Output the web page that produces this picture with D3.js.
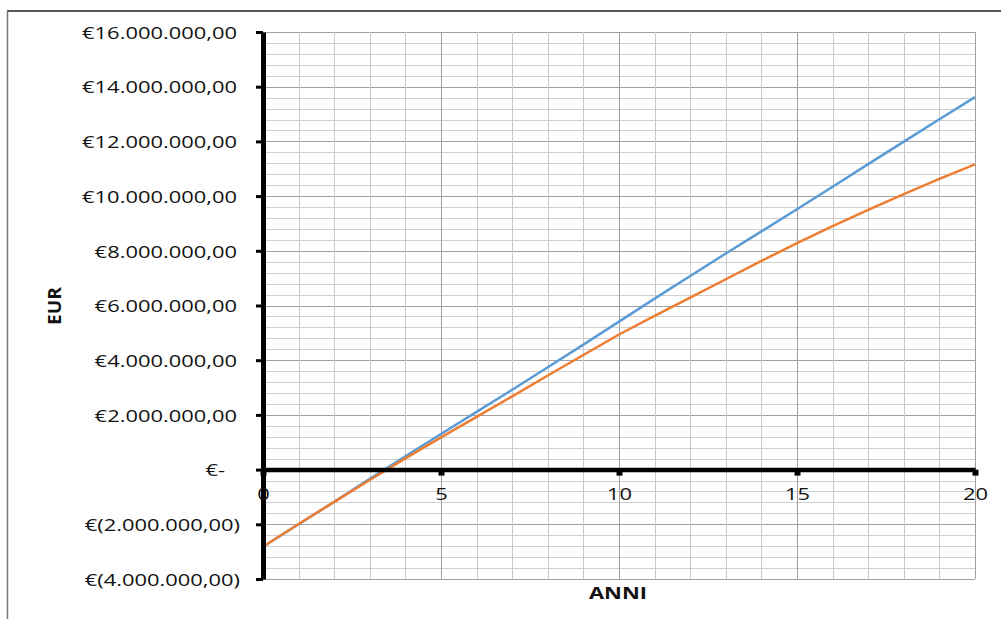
<!DOCTYPE html>
<html>
<head>
<meta charset="utf-8">
<script src="https://cdn.jsdelivr.net/npm/d3@7"></script>
<style>
  html, body { margin: 0; padding: 0; background: #fff; }
  svg { display: block; }
  text { font-family: "Open Sans", "DejaVu Sans", sans-serif; fill: #111; }
</style>
</head>
<body>
<svg id="chart" width="1001" height="619"></svg>
<script>
// ---------- data ----------
const years = [0,1,2,3,4,5,6,7,8,9,10,11,12,13,14,15,16,17,18,19,20];
const seriesBlue = [-2820000,-2000000,-1180000,-340000,490000,1300000,2110000,2920000,3740000,4570000,5410000,
                    6250000,7080000,7900000,8710000,9520000,10340000,11170000,11990000,12810000,13620000];
const seriesOrange = [-2820000,-1990000,-1180000,-380000,410000,1180000,1930000,2680000,3440000,4190000,4940000,
                      5620000,6290000,6960000,7630000,8280000,8900000,9500000,10070000,10630000,11160000];
const yTickValues = [-4000000,-2000000,0,2000000,4000000,6000000,8000000,10000000,12000000,14000000,16000000];
const yTickLabels = ["€(4.000.000,00)","€(2.000.000,00)","€-","€2.000.000,00","€4.000.000,00","€6.000.000,00",
                     "€8.000.000,00","€10.000.000,00","€12.000.000,00","€14.000.000,00","€16.000.000,00"];
const xTickValues = [0,5,10,15,20];
const xTickLabels = ["0","5","10","15","20"];
const xTitle = "ANNI";
const yTitle = "EUR";

// ---------- layout ----------
const svg = d3.select("#chart");
const pL = 263, pR = 975, pT = 32, pB = 579;
const x = d3.scaleLinear().domain([0, 20]).range([pL, pR]);
const y = d3.scaleLinear().domain([-4000000, 16000000]).range([pB, pT]);
const FS = 16;
const SX = 1.37; // horizontal stretch of the text

// outer frame (top and left edges)
svg.append("line").attr("x1", 7).attr("x2", 1001).attr("y1", 11).attr("y2", 11)
  .attr("stroke", "#555").attr("stroke-width", 2);
svg.append("line").attr("x1", 7.5).attr("x2", 7.5).attr("y1", 11).attr("y2", 619)
  .attr("stroke", "#777").attr("stroke-width", 1.5);

// ---------- grid ----------
const grid = svg.append("g");
const minorY = d3.range(-4000000, 16000001, 400000);
grid.selectAll(".hy").data(minorY).join("line")
  .attr("x1", pL).attr("x2", pR)
  .attr("y1", d => Math.round(y(d)) + 0.5).attr("y2", d => Math.round(y(d)) + 0.5)
  .attr("stroke", d => (Math.round(d) % 2000000 === 0) ? "#a0a0a0" : "#d0d0d0")
  .attr("stroke-width", 1);
const minorX = d3.range(0, 21, 1);
grid.selectAll(".vx").data(minorX).join("line")
  .attr("y1", pT).attr("y2", pB)
  .attr("x1", d => Math.round(x(d)) + 0.5).attr("x2", d => Math.round(x(d)) + 0.5)
  .attr("stroke", d => (d % 5 === 0) ? "#a0a0a0" : "#cacaca")
  .attr("stroke-width", 1);

// ---------- lines ----------
const line = (vals) => d3.line().x((d, i) => x(years[i])).y(d => y(d))(vals);
svg.append("path").attr("d", line(seriesBlue)).attr("fill", "none")
  .attr("stroke", "#5B9BD5").attr("stroke-width", 2.5).attr("stroke-linejoin", "round");
svg.append("path").attr("d", line(seriesOrange)).attr("fill", "none")
  .attr("stroke", "#ED7D31").attr("stroke-width", 2.5).attr("stroke-linejoin", "round");

// ---------- axes ----------
const yAxis = d3.axisLeft(y).tickValues(yTickValues).tickSize(7).tickSizeOuter(0)
  .tickFormat((d, i) => yTickLabels[i]);
const gy = svg.append("g").attr("transform", `translate(${pL},0)`).call(yAxis);
gy.select(".domain").attr("stroke", "#000").attr("stroke-width", 5);
gy.selectAll(".tick line").attr("stroke", "#000").attr("stroke-width", 3);
gy.selectAll(".tick text")
  .attr("x", null).attr("dy", null)
  .attr("dominant-baseline", "central")
  .attr("text-anchor", "end")
  .attr("font-size", FS)
  .attr("fill", "#111")
  .attr("transform", d => {
    const off = d > 0 ? -26 : (d < 0 ? -23 : -38);
    return `translate(${off},0) scale(${SX},1)`;
  });

const xAxis = d3.axisBottom(x).tickValues(xTickValues).tickSize(6).tickSizeOuter(0)
  .tickFormat((d, i) => xTickLabels[i]);
const gx = svg.append("g").attr("transform", `translate(0,${y(0)})`).call(xAxis);
gx.select(".domain").attr("stroke", "#000").attr("stroke-width", 4.5);
gx.selectAll(".tick line").attr("stroke", "#000").attr("stroke-width", 6);
gx.selectAll(".tick text")
  .attr("y", null).attr("dy", null)
  .attr("dominant-baseline", "central")
  .attr("text-anchor", "middle")
  .attr("font-size", FS)
  .attr("fill", "#111")
  .attr("transform", `translate(0,24) scale(${SX},1)`);

// ---------- titles ----------
svg.append("text").text(xTitle)
  .attr("text-anchor", "middle").attr("dominant-baseline", "central")
  .attr("font-size", FS).attr("font-weight", "bold")
  .attr("transform", `translate(618,593) scale(${SX},1)`);
svg.append("text").text(yTitle)
  .attr("text-anchor", "middle").attr("dominant-baseline", "central")
  .attr("font-size", FS).attr("font-weight", "bold")
  .attr("transform", `translate(54,306) rotate(-90) scale(1.2,1.1)`);
</script>
</body>
</html>
